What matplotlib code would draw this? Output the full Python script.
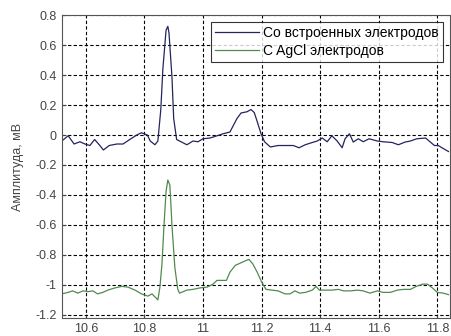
import matplotlib.pyplot as plt

plt.rcParams['font.family'] = ['Liberation Sans', 'DejaVu Sans']

# Со встроенных электродов
x_blue = [10.518, 10.54, 10.56, 10.58, 10.597, 10.614, 10.63, 10.648, 10.66, 10.68,
          10.706, 10.727, 10.75, 10.774, 10.79, 10.81, 10.82, 10.836, 10.846, 10.856,
          10.863, 10.874, 10.88, 10.884, 10.894, 10.90, 10.91, 10.92, 10.945, 10.966,
          10.983, 11.0, 11.024, 11.048, 11.068, 11.092, 11.10, 11.116, 11.13, 11.15,
          11.164, 11.175, 11.185, 11.198, 11.21, 11.23, 11.256, 11.287, 11.308, 11.328,
          11.349, 11.373, 11.39, 11.407, 11.424, 11.44, 11.458, 11.475, 11.485, 11.5,
          11.513, 11.53, 11.547, 11.567, 11.595, 11.615, 11.646, 11.667, 11.69, 11.708,
          11.73, 11.76, 11.776, 11.79, 11.803, 11.82, 11.838]
y_blue = [-0.04, -0.005, -0.06, -0.045, -0.06, -0.07, -0.03, -0.07, -0.10, -0.07,
          -0.06, -0.06, -0.03, 0.0, 0.015, 0.0, -0.04, -0.065, -0.04, 0.17,
          0.44, 0.70, 0.725, 0.68, 0.39, 0.11, -0.03, -0.04, -0.065, -0.04,
          -0.045, -0.025, -0.02, -0.005, 0.008, 0.02, 0.05, 0.11, 0.147, 0.155,
          0.17, 0.15, 0.09, 0.01, -0.045, -0.08, -0.07, -0.07, -0.07, -0.085,
          -0.065, -0.05, -0.04, -0.02, -0.045, -0.005, -0.04, -0.085, -0.025, 0.008,
          -0.047, -0.025, -0.045, -0.025, -0.04, -0.045, -0.05, -0.065, -0.047, -0.04,
          -0.025, -0.02, -0.047, -0.07, -0.07, -0.09, -0.11]

# С AgCl электродов
x_green = [10.518, 10.54, 10.555, 10.573, 10.59, 10.607, 10.624, 10.64, 10.658, 10.675,
           10.7, 10.723, 10.744, 10.768, 10.79, 10.812, 10.826, 10.836, 10.846, 10.853,
           10.86, 10.867, 10.874, 10.88, 10.887, 10.894, 10.904, 10.914, 10.92, 10.945,
           10.966, 10.99, 11.014, 11.034, 11.048, 11.065, 11.08, 11.092, 11.11, 11.127,
           11.144, 11.157, 11.17, 11.185, 11.2, 11.215, 11.236, 11.256, 11.28, 11.297,
           11.314, 11.33, 11.35, 11.373, 11.386, 11.397, 11.417, 11.44, 11.462, 11.48,
           11.503, 11.527, 11.547, 11.57, 11.595, 11.615, 11.64, 11.663, 11.685, 11.708,
           11.728, 11.75, 11.766, 11.783, 11.8, 11.82, 11.838]
y_green = [-1.06, -1.05, -1.04, -1.055, -1.04, -1.045, -1.04, -1.06, -1.05, -1.035,
           -1.02, -1.01, -1.015, -1.035, -1.06, -1.075, -1.06, -1.08, -1.10, -1.015,
           -0.86, -0.6, -0.375, -0.3, -0.335, -0.6, -0.885, -1.03, -1.055, -1.035,
           -1.03, -1.02, -1.015, -0.995, -0.97, -0.97, -0.97, -0.915, -0.87, -0.855,
           -0.84, -0.83, -0.86, -0.915, -0.98, -1.03, -1.035, -1.04, -1.06, -1.06,
           -1.04, -1.055, -1.05, -1.035, -1.01, -1.035, -1.035, -1.035, -1.03, -1.04,
           -1.04, -1.035, -1.04, -1.055, -1.04, -1.05, -1.05, -1.035, -1.03, -1.03,
           -1.01, -0.995, -0.995, -1.02, -1.05, -1.055, -1.065]

labels = ['Со встроенных электродов', 'С AgCl электродов']
xticks = [10.6, 10.8, 11.0, 11.2, 11.4, 11.6, 11.8]
xtick_labels = ['10.6', '10.8', '11', '11.2', '11.4', '11.6', '11.8']
yticks = [0.8, 0.6, 0.4, 0.2, 0.0, -0.2, -0.4, -0.6, -0.8, -1.0, -1.2]
ytick_labels = ['0.8', '0.6', '0.4', '0.2', '0', '-0.2', '-0.4', '-0.6', '-0.8', '-1', '-1.2']

fig = plt.figure(figsize=(4.51, 3.36), dpi=100)
ax = fig.add_axes([0.137, 0.054, 0.86, 0.901])

ax.plot(x_blue, y_blue, color='#24245e', linewidth=0.9, label=labels[0])
ax.plot(x_green, y_green, color='#4f8a4f', linewidth=0.9, label=labels[1])

ax.set_xlim(10.518, 11.842)
ax.set_ylim(-1.22, 0.8)
ax.set_xticks(xticks)
ax.set_xticklabels(xtick_labels)
ax.set_yticks(yticks)
ax.set_yticklabels(ytick_labels)
ax.tick_params(direction='in', labelsize=9, length=3, colors='#444444')
ax.grid(True, color='black', linestyle=(0, (3, 2)), linewidth=0.8)
for s in ax.spines.values():
    s.set_color('#555555')
ax.set_ylabel('Амплитуда, мВ', fontsize=9, color='#444444', labelpad=8)

leg = ax.legend(loc='upper right', fontsize=10, handlelength=3.2, frameon=True,
                fancybox=False, borderaxespad=0.5, handletextpad=0.25,
                labelspacing=0.25, borderpad=0.3)
leg.get_frame().set_edgecolor('black')
leg.get_frame().set_linewidth(0.8)

fig.savefig('out.png', dpi=100)
